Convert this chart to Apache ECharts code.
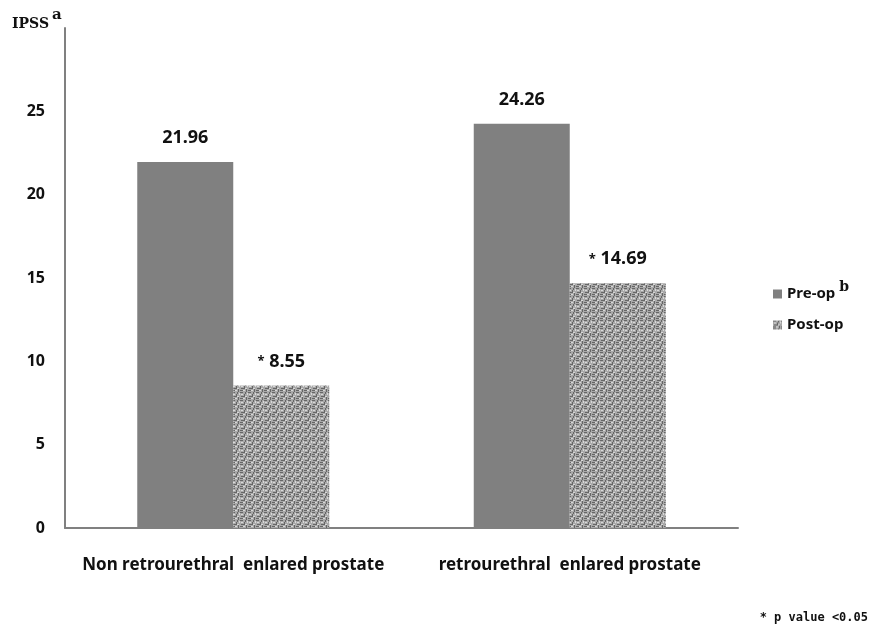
<!DOCTYPE html>
<html>
<head>
<meta charset="utf-8">
<script src="https://cdn.jsdelivr.net/npm/echarts@6/dist/echarts.min.js"></script>
<style>html,body{margin:0;padding:0;background:#fff}#c{width:872px;height:635px}</style>
</head>
<body>
<div id="c"></div>
<script>
const categories = ['Non retrourethral  enlared prostate', 'retrourethral  enlared prostate'];
const preOp = [21.96, 24.26];
const postOp = [8.55, 14.69];
const yTicks = [0, 5, 10, 15, 20, 25];

function makePattern() {
  const c = document.createElement('canvas');
  c.width = 8; c.height = 8;
  const ctx = c.getContext('2d');
  ctx.fillStyle = '#a9a9a9';
  ctx.fillRect(0, 0, 8, 8);
  ctx.fillStyle = '#666666';
  ctx.fillRect(0, 0, 3, 1);
  ctx.fillRect(4, 2, 1, 3);
  ctx.fillRect(1, 4, 3, 1);
  ctx.fillRect(6, 5, 1, 3);
  ctx.fillRect(5, 0, 1, 2);
  ctx.fillRect(0, 6, 3, 1);
  ctx.fillStyle = '#d8d8d8';
  ctx.fillRect(1, 2, 2, 1);
  ctx.fillRect(5, 4, 2, 1);
  ctx.fillRect(3, 6, 2, 1);
  ctx.fillRect(7, 1, 1, 2);
  return c;
}
const pattern = { image: makePattern(), repeat: 'repeat' };

const chart = echarts.init(document.getElementById('c'));
const font = "'Noto Sans', 'Open Sans', sans-serif";
chart.setOption({
  animation: false,
  textStyle: { fontFamily: font },
  grid: { left: 65, right: 134, top: 28, bottom: 107 },
  xAxis: {
    type: 'category',
    data: categories,
    axisLine: { lineStyle: { color: '#808080', width: 2 } },
    axisTick: { show: false },
    axisLabel: { interval: 0, margin: 29, fontSize: 17, fontWeight: 'bold', color: '#111', fontFamily: font }
  },
  yAxis: {
    type: 'value',
    min: 0, max: 30, interval: 5,
    axisLine: { show: true, lineStyle: { color: '#808080', width: 2 } },
    axisTick: { show: false },
    splitLine: { show: false },
    axisLabel: {
      margin: 20, fontSize: 16, fontWeight: 'bold', color: '#111', fontFamily: font,
      formatter: v => (yTicks.indexOf(v) >= 0 ? String(v) : '')
    }
  },
  legend: {
    orient: 'vertical',
    left: 768, top: 275,
    itemWidth: 9, itemHeight: 9, itemGap: 16,
    icon: 'rect',
    textStyle: {
      fontSize: 15, color: '#111', fontFamily: font,
      rich: {
        n: { fontSize: 15, fontWeight: 'bold', color: '#111', fontFamily: font },
        s: { fontSize: 14, fontWeight: 'bold', color: '#111', fontFamily: 'DejaVu Serif', verticalAlign: 'top', padding: [0, 0, 14, 0] }
      }
    },
    formatter: name => name === 'Pre-op' ? '{n|Pre-op} {s|b}' : '{n|' + name + '}'
  },
  series: [
    {
      name: 'Pre-op', type: 'bar', data: preOp,
      barWidth: 96, barGap: '0%',
      itemStyle: { color: '#808080' },
      label: { show: true, position: 'top', distance: 15, fontSize: 18, fontWeight: 'bold', color: '#111', fontFamily: font }
    },
    {
      name: 'Post-op', type: 'bar', data: postOp,
      barWidth: 96, barGap: '0%',
      itemStyle: { color: pattern },
      label: { show: true, position: 'top', distance: 15, fontSize: 18, fontWeight: 'bold', color: '#111', fontFamily: font,
        formatter: p => '{a|*} ' + p.value,
        rich: { a: { fontSize: 13, fontWeight: 'bold', color: '#111' } } }
    }
  ],
  graphic: [
    { type: 'text', left: 12, top: 17, style: { text: 'IPSS', font: "bold 14px 'DejaVu Serif'", fill: '#111' } },
    { type: 'text', left: 52, top: 8, style: { text: 'a', font: "bold 15px 'DejaVu Serif'", fill: '#111' } },
    { type: 'text', right: 4, top: 612, style: { text: '* p value <0.05', font: "bold 12px 'DejaVu Sans Mono'", fill: '#111' } }
  ]
});
</script>
</body>
</html>
